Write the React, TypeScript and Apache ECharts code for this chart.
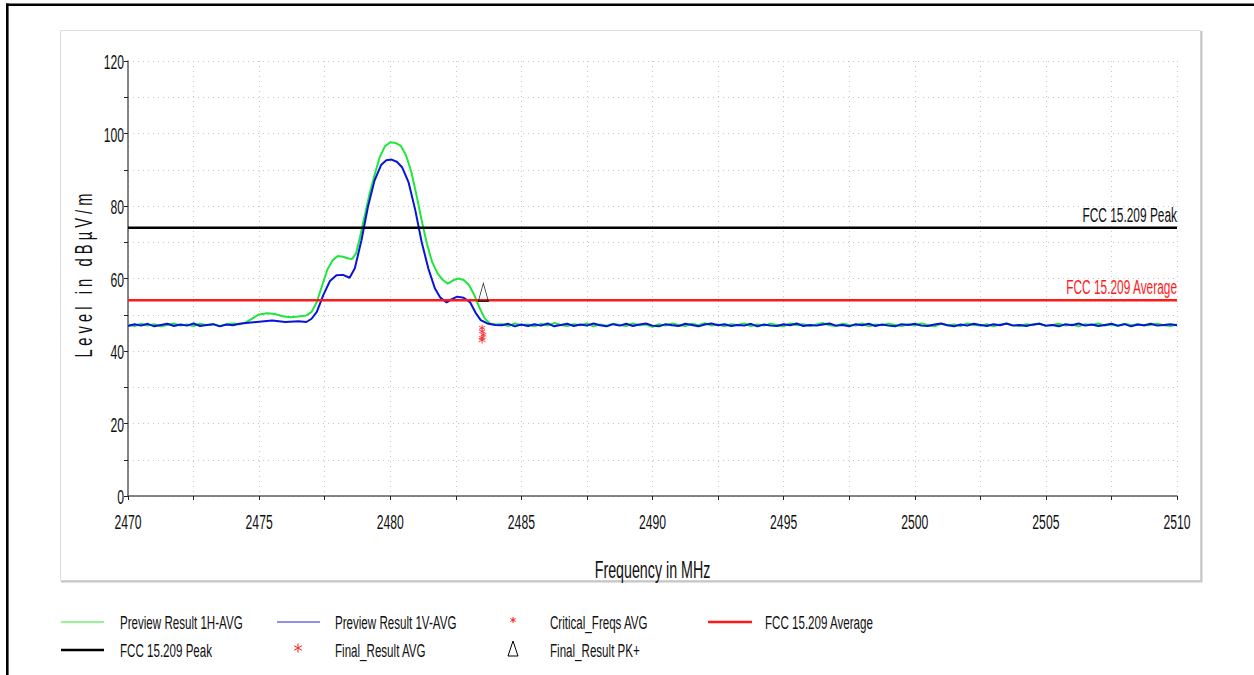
import React, { useEffect, useRef } from "react";
import * as echarts from "echarts";

const FONT = "'Liberation Sans', Arial, sans-serif";

// Frequency axis (MHz) and level axis (dBµV/m)
const X_MIN = 2470;
const X_MAX = 2510;
const Y_MIN = 0;
const Y_MAX = 120;
const xTickLabels = [2470, 2475, 2480, 2485, 2490, 2495, 2500, 2505, 2510];
const yTickLabels = [0, 20, 40, 60, 80, 100, 120];

// Limits
const peakLimit = 74;
const averageLimit = 54;

// Preview Result 1H-AVG, below and across the band edge
const freqH = [
  2470.0, 2470.25, 2470.5, 2470.75, 2471.0, 2471.25, 2471.5, 2471.75, 2472.0, 2472.25,
  2472.5, 2472.75, 2473.0, 2473.25, 2473.5, 2473.75, 2474.0, 2474.25, 2474.5,
  2474.7, 2475.0, 2475.3, 2475.6, 2475.9, 2476.2, 2476.5, 2476.8, 2477.0, 2477.2,
  2477.4, 2477.6, 2477.8, 2478.0, 2478.2, 2478.4, 2478.55, 2478.7, 2478.85, 2479.0,
  2479.2, 2479.4, 2479.6, 2479.8, 2480.0, 2480.2, 2480.4, 2480.6, 2480.8, 2481.0,
  2481.2, 2481.4, 2481.6, 2481.8, 2482.0, 2482.2, 2482.4, 2482.6, 2482.8, 2483.0,
  2483.2, 2483.4, 2483.6, 2483.8, 2484.0,
];
const levelH = [
  47.3, 46.9, 47.5, 47.0, 47.4, 46.8, 47.2, 47.6, 47.0, 47.3,
  46.9, 47.5, 47.1, 47.4, 46.9, 47.3, 47.6, 47.4, 47.9,
  48.8, 50.1, 50.4, 50.2, 49.6, 49.3, 49.5, 49.8, 50.8, 53.5,
  58.0, 62.4, 65.0, 66.2, 66.0, 65.5, 65.4, 67.0, 71.5, 76.5,
  83.0, 88.5, 93.5, 96.5, 97.6, 97.4, 96.6, 94.0, 89.5, 83.0,
  76.0, 69.5, 64.5, 61.5, 59.6, 58.6, 59.5, 60.0, 59.6, 58.2,
  55.5, 52.0, 49.0, 47.6, 47.3,
];

// Preview Result 1V-AVG, below and across the band edge
const freqV = [
  2470.0, 2470.25, 2470.5, 2470.75, 2471.0, 2471.25, 2471.5, 2471.75, 2472.0, 2472.25,
  2472.5, 2472.75, 2473.0, 2473.25, 2473.5, 2473.75, 2474.0, 2474.25, 2474.5,
  2475.0, 2475.5, 2476.0, 2476.5, 2476.8, 2477.0, 2477.2, 2477.45, 2477.7, 2477.95,
  2478.2, 2478.45, 2478.65, 2478.9, 2479.15, 2479.4, 2479.65, 2479.85, 2480.05, 2480.25,
  2480.45, 2480.7, 2480.95, 2481.2, 2481.45, 2481.7, 2481.9, 2482.15, 2482.35, 2482.55,
  2482.8, 2483.05, 2483.25, 2483.45, 2483.7, 2484.0,
];
const levelV = [
  46.9, 47.4, 47.0, 47.5, 46.8, 47.2, 47.5, 46.9, 47.3, 47.0,
  47.6, 46.9, 47.2, 47.4, 46.8, 47.3, 47.1, 47.5, 47.7,
  48.1, 48.4, 48.0, 48.2, 48.0, 48.9, 50.8, 55.5, 59.3, 60.9,
  61.0, 60.2, 62.8, 70.5, 79.8, 87.0, 91.3, 92.6, 92.8, 92.2,
  90.7, 86.5, 79.0, 70.0, 62.8, 57.3, 54.8, 53.4, 54.3, 55.0,
  54.7, 53.4, 50.6, 48.5, 47.6, 47.2,
];

// Noise floor above the band edge (shared frequency grid, 250 kHz steps)
const floorFreqs = [
  2484.25, 2484.5, 2484.75, 2485.0, 2485.25, 2485.5, 2485.75, 2486.0, 2486.25, 2486.5,
  2486.75, 2487.0, 2487.25, 2487.5, 2487.75, 2488.0, 2488.25, 2488.5, 2488.75, 2489.0,
  2489.25, 2489.5, 2489.75, 2490.0, 2490.25, 2490.5, 2490.75, 2491.0, 2491.25, 2491.5,
  2491.75, 2492.0, 2492.25, 2492.5, 2492.75, 2493.0, 2493.25, 2493.5, 2493.75, 2494.0,
  2494.25, 2494.5, 2494.75, 2495.0, 2495.25, 2495.5, 2495.75, 2496.0, 2496.25, 2496.5,
  2496.75, 2497.0, 2497.25, 2497.5, 2497.75, 2498.0, 2498.25, 2498.5, 2498.75, 2499.0,
  2499.25, 2499.5, 2499.75, 2500.0, 2500.25, 2500.5, 2500.75, 2501.0, 2501.25, 2501.5,
  2501.75, 2502.0, 2502.25, 2502.5, 2502.75, 2503.0, 2503.25, 2503.5, 2503.75, 2504.0,
  2504.25, 2504.5, 2504.75, 2505.0, 2505.25, 2505.5, 2505.75, 2506.0, 2506.25, 2506.5,
  2506.75, 2507.0, 2507.25, 2507.5, 2507.75, 2508.0, 2508.25, 2508.5, 2508.75, 2509.0,
  2509.25, 2509.5, 2509.75, 2510.0,
];
const floorH = [
  47.4, 46.9, 47.6, 47.1, 47.3, 46.8, 47.5, 47.0, 47.7, 47.2,
  46.9, 47.4, 47.1, 47.6, 46.8, 47.3, 47.0, 47.5, 47.2, 46.9,
  47.6, 47.1, 47.3, 46.7, 47.4, 47.0, 47.6, 47.2, 46.9, 47.5,
  47.1, 47.7, 47.0, 47.3, 46.8, 47.4, 47.2, 47.6, 46.9, 47.3,
  47.0, 47.5, 47.2, 46.8, 47.6, 47.1, 47.4, 46.9, 47.3, 47.7,
  47.1, 46.9, 47.5, 47.2, 47.0, 47.6, 46.8, 47.3, 47.1, 47.5,
  47.2, 46.9, 47.4, 47.0, 47.6, 47.2, 46.8, 47.5, 47.1, 47.3,
  46.9, 47.6, 47.2, 47.0, 47.4, 46.8, 47.3, 47.5, 47.1, 46.9,
  47.4, 47.1, 47.6, 46.9, 47.2, 47.5, 47.0, 47.3, 46.8, 47.4,
  47.2, 47.6, 47.0, 47.3, 46.9, 47.5, 47.1, 47.4, 47.0, 47.2,
  47.5, 47.1, 46.9, 47.3,
];
const floorV = [
  47.1, 47.5, 46.8, 47.3, 46.9, 47.4, 47.0, 47.6, 46.8, 47.2,
  47.5, 46.9, 47.3, 47.0, 47.6, 47.1, 46.8, 47.4, 47.0, 47.5,
  46.9, 47.3, 47.6, 47.0, 46.8, 47.4, 47.1, 46.9, 47.5, 47.2,
  46.8, 47.3, 47.6, 47.1, 47.4, 46.9, 47.2, 47.0, 47.5, 46.8,
  47.3, 47.0, 46.9, 47.4, 47.1, 47.6, 46.9, 47.2, 47.0, 47.3,
  47.6, 47.0, 47.2, 46.8, 47.4, 47.1, 47.5, 46.9, 47.3, 47.0,
  46.8, 47.4, 47.2, 47.5, 47.0, 46.9, 47.3, 47.6, 47.1, 46.8,
  47.3, 47.0, 47.5, 47.2, 46.9, 47.4, 47.1, 47.6, 47.0, 47.2,
  46.9, 47.3, 47.5, 47.0, 47.2, 46.8, 47.4, 47.1, 47.6, 47.0,
  47.3, 46.9, 47.2, 47.5, 47.0, 47.4, 46.8, 47.3, 47.1, 47.5,
  47.0, 47.2, 47.4, 47.1,
];

// Measured points at the band edge
const criticalFreqs = [2483.5, 2483.5, 2483.55, 2483.5];
const criticalLevels = [46.4, 45.4, 44.5, 43.6];
const finalAvgFreqs = [2483.5];
const finalAvgLevels = [43.0];
const finalPkFreqs = [2483.55];
const finalPkLevels = [56.2];

const GREEN = "#1fe63c";
const BLUE = "#0a14d8";
const RED = "#ff1a1a";
const ASTERISK = "path://M5,0L5,10M0.67,2.5L9.33,7.5M0.67,7.5L9.33,2.5";

const zip = (xs: number[], ys: number[]) => xs.map((x, i) => [x, ys[i]]);

// Condensed text: a regular face squeezed horizontally
function label(text: string, x: number, y: number, size: number, sx: number, extra: any = {}) {
  return {
    type: "text",
    x,
    y,
    scaleX: sx,
    rotation: extra.rotation || 0,
    silent: true,
    style: {
      text,
      font: `${size}px ${FONT}`,
      fill: extra.fill || "#111",
      align: extra.align || "left",
      verticalAlign: extra.verticalAlign || "middle",
    },
  };
}

function asterisk(cx: number, cy: number, r: number, color: string) {
  const dx = r * 0.866;
  const dy = r * 0.5;
  const ls = { stroke: color, lineWidth: 1 };
  return {
    type: "group",
    children: [
      { type: "line", shape: { x1: cx, y1: cy - r, x2: cx, y2: cy + r }, style: ls },
      { type: "line", shape: { x1: cx - dx, y1: cy - dy, x2: cx + dx, y2: cy + dy }, style: ls },
      { type: "line", shape: { x1: cx - dx, y1: cy + dy, x2: cx + dx, y2: cy - dy }, style: ls },
    ],
  };
}

export default function App() {
  const ref = useRef<HTMLDivElement>(null);

  useEffect(() => {
    document.body.style.margin = "0";
    const chart = echarts.init(ref.current!, null, { renderer: "svg" });

    const axisCommon = {
      axisLabel: { show: false },
      axisLine: { show: true, lineStyle: { color: "#5c5c5c", width: 1.5 } },
      axisTick: { show: true, length: 4, lineStyle: { color: "#222", width: 1 } },
      splitLine: { show: true, lineStyle: { color: "#c8c8c8", type: [1, 4], width: 1 } },
    };

    chart.setOption({
      animation: false,
      backgroundColor: "#ffffff",
      grid: { left: 128, top: 61, right: 77, bottom: 179, containLabel: false },
      xAxis: { type: "value", min: X_MIN, max: X_MAX, interval: 2.5, ...axisCommon },
      yAxis: { type: "value", min: Y_MIN, max: Y_MAX, interval: 10, ...axisCommon },
      series: [
        {
          name: "Preview Result 1H-AVG",
          type: "line",
          data: zip(freqH.concat(floorFreqs), levelH.concat(floorH)),
          showSymbol: false,
          lineStyle: { color: GREEN, width: 2 },
          z: 2,
        },
        {
          name: "Preview Result 1V-AVG",
          type: "line",
          data: zip(freqV.concat(floorFreqs), levelV.concat(floorV)),
          showSymbol: false,
          lineStyle: { color: BLUE, width: 2 },
          z: 3,
        },
        {
          name: "FCC 15.209 Peak",
          type: "line",
          data: [[X_MIN, peakLimit], [X_MAX, peakLimit]],
          showSymbol: false,
          lineStyle: { color: "#000", width: 2.5 },
          z: 4,
        },
        {
          name: "FCC 15.209 Average",
          type: "line",
          data: [[X_MIN, averageLimit], [X_MAX, averageLimit]],
          showSymbol: false,
          lineStyle: { color: RED, width: 2.5 },
          z: 4,
        },
        {
          name: "Critical_Freqs AVG",
          type: "scatter",
          data: zip(criticalFreqs, criticalLevels),
          symbol: ASTERISK,
          symbolSize: 6,
          itemStyle: { color: "none", borderColor: RED, borderWidth: 1 },
          z: 5,
        },
        {
          name: "Final_Result AVG",
          type: "scatter",
          data: zip(finalAvgFreqs, finalAvgLevels),
          symbol: ASTERISK,
          symbolSize: 7,
          itemStyle: { color: "none", borderColor: RED, borderWidth: 1 },
          z: 5,
        },
        {
          name: "Final_Result PK+",
          type: "scatter",
          data: zip(finalPkFreqs, finalPkLevels),
          symbol: "triangle",
          symbolSize: [10, 18],
          itemStyle: { color: "none", borderColor: "#000", borderWidth: 1 },
          z: 5,
        },
      ],
    });

    const px = (x: number, y: number) => chart.convertToPixel({ gridIndex: 0 }, [x, y]) as number[];

    const tickTexts: any[] = [];
    yTickLabels.forEach((v) => {
      const [x, y] = px(X_MIN, v);
      tickTexts.push(label(String(v), x - 4, y + 1, 21, 0.58, { align: "right" }));
    });
    xTickLabels.forEach((v) => {
      const [x, y] = px(v, Y_MIN);
      tickTexts.push(label(String(v), x, y + 26, 21, 0.58, { align: "center" }));
    });

    const [pkX, pkY] = px(X_MAX, peakLimit);
    const [avX, avY] = px(X_MAX, averageLimit);
    const [midX] = px((X_MIN + X_MAX) / 2, 0);
    const [, topY] = px(X_MIN, Y_MAX);
    const [, botY] = px(X_MIN, Y_MIN);

    const row1 = 622;
    const row2 = 650;
    const legendText = (t: string, x: number, y: number) => label(t, x, y, 19, 0.61);

    chart.setOption({
      graphic: [
        // page frame
        { type: "line", shape: { x1: 6, y1: 4.8, x2: 1254, y2: 4.8 }, style: { stroke: "#000", lineWidth: 2.6 } },
        { type: "line", shape: { x1: 7.3, y1: 3.5, x2: 7.3, y2: 675 }, style: { stroke: "#000", lineWidth: 2.6 } },
        // chart panel
        { type: "rect", shape: { x: 60.5, y: 30.5, width: 1140, height: 550 }, style: { fill: "none", stroke: "#dedede", lineWidth: 1 } },
        { type: "line", shape: { x1: 1201.5, y1: 31, x2: 1201.5, y2: 582 }, style: { stroke: "#c6c6c6", lineWidth: 2 } },
        { type: "line", shape: { x1: 61, y1: 581.5, x2: 1202, y2: 581.5 }, style: { stroke: "#c6c6c6", lineWidth: 2 } },
        ...tickTexts,
        // axis titles
        label("Frequency in MHz", midX, 570, 23, 0.62, { align: "center" }),
        label("L e v e l   i n   d B µ V / m", 84, (topY + botY) / 2 - 3, 23, 0.64, { align: "center", rotation: Math.PI / 2 }),
        // limit line captions
        label("FCC 15.209 Peak", pkX, pkY - 3, 19.5, 0.61, { align: "right", verticalAlign: "bottom" }),
        label("FCC 15.209 Average", avX, avY - 3, 19.5, 0.61, { align: "right", verticalAlign: "bottom", fill: RED }),
        // legend, first row
        { type: "line", shape: { x1: 61, y1: row1, x2: 104, y2: row1 }, style: { stroke: "#6cf56c", lineWidth: 1.5 } },
        legendText("Preview Result 1H-AVG", 120, row1),
        { type: "line", shape: { x1: 277, y1: row1, x2: 320, y2: row1 }, style: { stroke: "#6a6af0", lineWidth: 1.5 } },
        legendText("Preview Result 1V-AVG", 335, row1),
        asterisk(513, row1 - 2, 3, RED),
        legendText("Critical_Freqs AVG", 550, row1),
        { type: "line", shape: { x1: 708, y1: row1, x2: 752, y2: row1 }, style: { stroke: RED, lineWidth: 2.5 } },
        legendText("FCC 15.209 Average", 765, row1),
        // legend, second row
        { type: "line", shape: { x1: 61, y1: row2, x2: 104, y2: row2 }, style: { stroke: "#000", lineWidth: 2.5 } },
        legendText("FCC 15.209 Peak", 120, row2),
        asterisk(298, row2 - 2, 4.5, RED),
        legendText("Final_Result AVG", 335, row2),
        { type: "polygon", shape: { points: [[513, row2 - 9], [508, row2 + 6], [518, row2 + 6]] }, style: { fill: "none", stroke: "#000", lineWidth: 1 } },
        legendText("Final_Result PK+", 550, row2),
      ],
    });

    return () => chart.dispose();
  }, []);

  return <div ref={ref} style={{ position: "absolute", left: 0, top: 0, width: 1254, height: 675 }} />;
}
